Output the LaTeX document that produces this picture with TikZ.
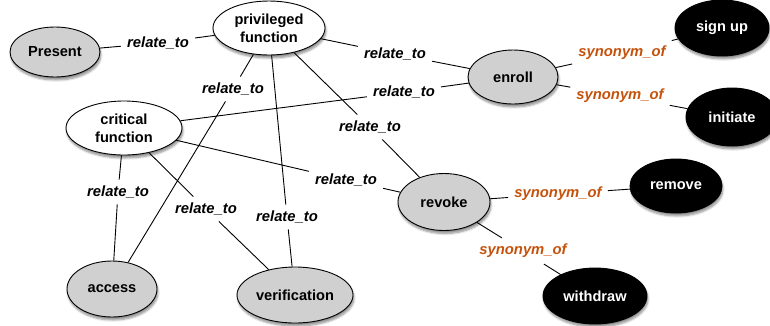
\documentclass[tikz,border=0pt]{standalone}
\usepackage{fontspec}
\setmainfont{Liberation Sans}
\usetikzlibrary{shapes.geometric,shadows.blur}
\definecolor{synorange}{RGB}{196,82,12}
\definecolor{nodegray}{RGB}{208,208,208}
\tikzset{
  concept/.style={ellipse, draw=black, line width=0.9pt, inner sep=0pt,
    font=\bfseries\fontsize{14.6}{18}\selectfont, align=center,
    blur shadow={shadow xshift=1pt, shadow yshift=-3pt, shadow blur steps=6, shadow opacity=45}},
  graynode/.style={concept, fill=nodegray},
  whitenode/.style={concept, fill=white},
  blacknode/.style={concept, fill=black, text=white},
  rel/.style={font=\bfseries\itshape\fontsize{14.8}{16}\selectfont, inner sep=6pt},
  syn/.style={rel, text=synorange},
  link/.style={draw=black, line width=0.9pt}
}
\begin{document}
\begin{tikzpicture}[x=1pt,y=-1pt]
\useasboundingbox (0,0) rectangle (770,325);

% concept nodes
\node[graynode, minimum width=90pt, minimum height=50pt] (present) at (55,52) {Present};
\node[whitenode, minimum width=112pt, minimum height=54pt] (priv) at (269,28) {privileged\\function};
\node[whitenode, minimum width=116pt, minimum height=54pt] (crit) at (124,128) {critical\\function};
\node[graynode, minimum width=90pt, minimum height=54pt] (enroll) at (513,77) {enroll};
\node[graynode, minimum width=92pt, minimum height=57pt] (revoke) at (444,202) {revoke};
\node[graynode, minimum width=90pt, minimum height=56pt] (access) at (112,289) {access};
\node[graynode, minimum width=116pt, minimum height=56pt] (verif) at (295,295) {verification};
\node[blacknode, minimum width=94pt, minimum height=56pt] (signup) at (722,28) {sign up};
\node[blacknode, minimum width=92pt, minimum height=58pt] (initiate) at (732,117) {initiate};
\node[blacknode, minimum width=92pt, minimum height=54pt] (remove) at (676,186) {remove};
\node[blacknode, minimum width=104pt, minimum height=56pt] (withdraw) at (595,296) {withdraw};

% relation labels
\node[rel] (r1) at (158,43) {relate\_to};
\node[rel] (r2) at (395,54) {relate\_to};
\node[rel] (r3) at (404,92) {relate\_to};
\node[rel] (r4) at (370,127) {relate\_to};
\node[rel] (r5) at (346,180) {relate\_to};
\node[rel] (r6) at (233,89) {relate\_to};
\node[rel] (r7) at (287,217) {relate\_to};
\node[rel] (r8) at (118,192) {relate\_to};
\node[rel] (r9) at (206,209) {relate\_to};
\node[syn] (s1) at (622,53) {synonym\_of};
\node[syn] (s2) at (620,96) {synonym\_of};
\node[syn] (s3) at (558,194) {synonym\_of};
\node[syn] (s4) at (523,251) {synonym\_of};

% connectors
\path[link]
  (present) -- (r1) (r1) -- (priv)
  (priv) -- (r2) (r2) -- (enroll)
  (crit) -- (r3) (r3) -- (enroll)
  (priv) -- (r4) (r4) -- (revoke)
  (crit) -- (r5) (r5) -- (revoke)
  (priv) -- (r6) (r6) -- (access)
  (priv) -- (r7) (r7) -- (verif)
  (crit) -- (r8) (r8) -- (access)
  (crit) -- (r9) (r9) -- (verif)
  (enroll) -- (s1) (s1) -- (signup)
  (enroll) -- (s2) (s2) -- (initiate)
  (revoke) -- (s3) (s3) -- (remove)
  (revoke) -- (s4) (s4) -- (withdraw);
\end{tikzpicture}
\end{document}
